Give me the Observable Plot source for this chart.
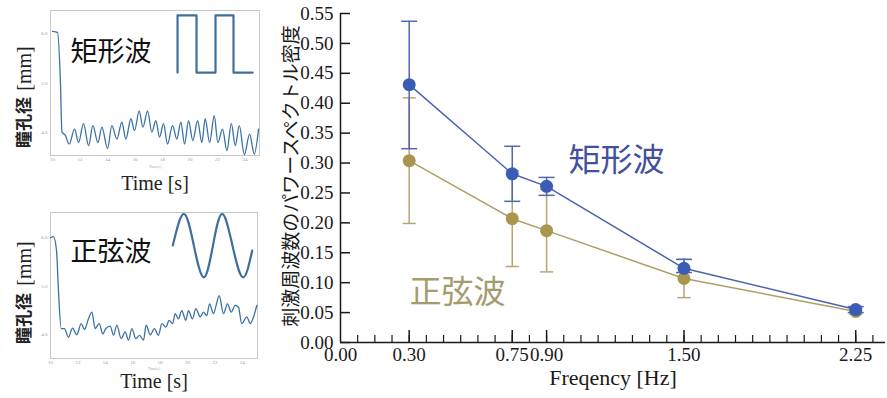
<!DOCTYPE html>
<html><head><meta charset="utf-8">
<script src="https://cdn.jsdelivr.net/npm/d3@7"></script>
<script src="https://cdn.jsdelivr.net/npm/@observablehq/plot@0.6"></script>
<style>
body{margin:0;background:#fff;width:887px;height:398px;overflow:hidden;position:relative}
.p{position:absolute}
svg{overflow:visible}
</style></head><body>
<div id="top" class="p" style="left:0;top:0"></div>
<div id="bot" class="p" style="left:0;top:198px"></div>
<div id="main" class="p" style="left:270px;top:0"></div>
<script>
// ---- main chart data ----
const freqs = [0.30, 0.75, 0.90, 1.50, 2.25];
const rectMean = [0.431, 0.282, 0.261, 0.124, 0.055];
const rectLo   = [0.324, 0.236, 0.246, 0.117, 0.050];
const rectHi   = [0.537, 0.328, 0.276, 0.139, 0.060];
const sineMean = [0.304, 0.207, 0.187, 0.107, 0.052];
const sineLo   = [0.199, 0.127, 0.118, 0.075, 0.047];
const sineHi   = [0.409, 0.287, 0.256, 0.139, 0.057];
const xTickLabels = [0.00, 0.30, 0.75, 0.90, 1.50, 2.25];
const yTicks = [0.00, 0.05, 0.10, 0.15, 0.20, 0.25, 0.30, 0.35, 0.40, 0.45, 0.50, 0.55];
const seriesNames = ["矩形波", "正弦波"];
const seriesLabelX = [1.205, 0.511];
const seriesLabelY = [0.304, 0.084];

// ---- inset panels data ----
const timeTicks = [10, 12, 14, 16, 18, 20, 22, 24];
const pupilTicks = [4, 5, 6];
const rectTraceT = [10.0,10.36,10.58,10.68,10.92,11.21,11.6,11.89,12.25,12.62,12.93,13.3,13.59,14.0,14.31,14.68,15.04,15.33,15.7,15.96,16.3,16.57,16.91,17.22,17.51,17.78,18.07,18.36,18.73,19.04,19.33,19.6,19.89,20.2,20.55,20.86,21.1,21.42,21.76,22.02,22.36,22.68,23.0,23.29,23.58,23.95,24.33,24.67,24.98];
const rectTraceV = [6.04,6.02,4.95,4.01,3.95,3.77,4.07,3.80,4.18,3.74,4.14,3.80,4.11,3.68,4.14,3.87,4.21,3.87,4.28,4.04,4.44,4.11,4.44,4.01,4.24,3.91,4.18,3.77,4.14,3.87,4.21,3.77,4.24,3.84,4.24,3.80,4.28,3.80,4.34,3.80,4.07,3.64,4.18,3.74,4.14,3.56,3.97,3.57,4.07];
const sineTraceT = [10.0,10.22,10.44,10.58,10.78,11.02,11.31,11.61,11.92,12.24,12.48,12.77,13.02,13.26,13.55,13.82,14.04,14.36,14.6,14.84,15.16,15.45,15.69,15.94,16.23,16.5,16.79,16.98,17.28,17.59,17.88,18.13,18.42,18.66,18.91,19.1,19.34,19.58,19.88,20.07,20.36,20.61,20.93,21.17,21.41,21.61,21.9,22.09,22.31,22.63,22.92,23.19,23.48,23.72,23.96,24.33,24.58,24.82,25.06];
const sineTraceV = [6.0,6.02,5.73,4.91,4.12,4.12,3.94,4.13,3.99,4.22,4.10,4.32,4.46,4.12,4.22,4.01,4.12,4.17,3.98,4.19,3.91,4.05,3.88,4.12,3.91,3.98,3.88,4.19,3.99,4.12,3.98,4.22,4.15,4.29,4.22,4.43,4.32,4.49,4.29,4.49,4.32,4.53,4.36,4.46,4.39,4.63,4.43,4.60,4.80,4.43,4.63,4.46,4.60,4.56,4.22,4.36,4.22,4.36,4.60];
const squareStimT = [19.09,19.09,20.47,20.47,21.85,21.85,23.16,23.16,24.55];
const squareStimV = [5.21,6.36,6.36,5.21,5.21,6.36,6.36,5.21,5.21];
const sineStimT = [18.93,19.73,20.46,21.19,21.86,22.53,23.28,24.04,24.72];
const sineStimV = [5.84,6.49,5.84,5.18,5.84,6.49,5.84,5.18,5.73];

const SERIF = "'Liberation Serif','Times New Roman',serif";
const CJK = "'Noto Sans CJK JP','Noto Sans CJK SC',sans-serif";
const zip = (a, b) => a.map((v, i) => ({x: v, y: b[i]}));

const BLUE = "#3a5cb5", BLUE_L = "#4b63ae", OLIVE = "#a8964f", OLIVE_L = "#ad9f66";
const capSym = {draw(ctx, size) { const w = Math.sqrt(size / Math.PI); ctx.moveTo(-w, 0); ctx.lineTo(w, 0); }};

const rect = freqs.map((f, i) => ({f, m: rectMean[i], lo: rectLo[i], hi: rectHi[i]}));
const sine = freqs.map((f, i) => ({f, m: sineMean[i], lo: sineLo[i], hi: sineHi[i]}));
const labels = seriesNames.map((n, i) => ({n, x: seriesLabelX[i], y: seriesLabelY[i], c: i === 0 ? "#42509e" : "#a39c6c"}));

function seriesMarks(d, lineC, dotC, errC, capR, dotR) {
  return [
    Plot.line(d, {x: "f", y: "m", stroke: lineC, strokeWidth: 1.5}),
    Plot.ruleX(d, {x: "f", y1: "lo", y2: "hi", stroke: errC, strokeWidth: 1.5}),
    Plot.dot(d, {x: "f", y: "lo", symbol: capSym, r: capR, stroke: errC, fill: "none", strokeWidth: 1.5}),
    Plot.dot(d, {x: "f", y: "hi", symbol: capSym, r: capR, stroke: errC, fill: "none", strokeWidth: 1.5}),
    Plot.dot(d, {x: "f", y: "m", r: dotR, fill: dotC, stroke: "none"})
  ];
}

const innerW = 617 - 70 - 2, innerH = 398 - 13 - 56;
const mainPlot = Plot.plot({
  width: 617, height: 398, marginLeft: 70, marginRight: 2, marginTop: 13, marginBottom: 56,
  x: {domain: [0, 2.38]}, y: {domain: [0, 0.55]},
  style: {fontFamily: SERIF, fontSize: "19px", color: "#1a1a1a", background: "transparent"},
  marks: [
    ...seriesMarks(sine, OLIVE_L, OLIVE, "#b3a674", 6.5, 6.5),
    ...seriesMarks(rect, BLUE_L, BLUE, "#5367b0", 8, 6.5),
    Plot.ruleY([0], {stroke: "#1a1a1a", strokeWidth: 1.5}),
    Plot.ruleX([0], {y1: 0, y2: 0.55, stroke: "#1a1a1a", strokeWidth: 1.5}),
    Plot.tickX(d3.range(1, 32).map(i => i * 0.075), {x: d => d, insetTop: innerH - 7, stroke: "#1a1a1a", strokeWidth: 1.2}),
    Plot.tickX(xTickLabels.slice(1), {x: d => d, insetTop: innerH - 12, stroke: "#1a1a1a", strokeWidth: 1.5}),
    Plot.tickY(yTicks, {y: d => d, insetRight: innerW - 10, stroke: "#1a1a1a", strokeWidth: 1.5}),
    Plot.axisX({ticks: xTickLabels, tickSize: 0, tickPadding: 5, tickFormat: d3.format(".2f"), label: null, fontSize: 19}),
    Plot.axisY({ticks: yTicks, tickSize: 0, tickPadding: 7, tickFormat: d3.format(".2f"), label: null, fontSize: 19}),
    Plot.text(["刺激周波数のパワースペクトル密度"], {frameAnchor: "left", textAnchor: "middle", rotate: -90, dx: -49, dy: -2, fontFamily: CJK, fontSize: 19, fill: "#1a1a1a"}),
    Plot.text(["Freqency [Hz]"], {frameAnchor: "bottom", dy: 42, fontFamily: SERIF, fontSize: 22, fill: "#1a1a1a"}),
    Plot.text(labels, {x: "x", y: "y", text: "n", fill: "c", fontFamily: CJK, fontSize: 32})
  ]
});
document.getElementById("main").append(mainPlot);

function panel(opts) {
  return Plot.plot({
    width: 270, height: opts.h, marginLeft: 50, marginRight: opts.mr, marginTop: opts.mt, marginBottom: opts.mb,
    x: {domain: opts.xd}, y: {domain: opts.yd},
    style: {fontFamily: SERIF, fontSize: "5px", color: "#888", background: "transparent"},
    marks: [
      Plot.frame({stroke: "#c8c8c8"}),
      Plot.axisX({ticks: timeTicks, tickSize: 0, tickPadding: 2, label: null, fontSize: 5, fill: "#999"}),
      Plot.axisY({ticks: pupilTicks, tickSize: 0, tickPadding: 3, label: null, fontSize: 5, fill: "#999"}),
      Plot.text(["Time(s)"], {frameAnchor: "bottom", dy: opts.sdy, fontSize: 4, fill: "#aaa"}),
      Plot.line(zip(opts.tt, opts.tv), {x: "x", y: "y", stroke: "#3a72a6", strokeWidth: 1.3, curve: "monotone-x"}),
      Plot.line(zip(opts.st, opts.sv), {x: "x", y: "y", stroke: "#3f6f9c", strokeWidth: 2.2, curve: opts.curve}),
      Plot.text([opts.name], {frameAnchor: "top-left", dx: 20, dy: opts.ndy, fontFamily: CJK, fontSize: 27, textAnchor: "start", fill: "#111"}),
      Plot.text(["瞳孔径"], {frameAnchor: "left", textAnchor: "middle", rotate: -90, dx: -26, dy: opts.cdy, fontFamily: CJK, fontWeight: "bold", fontSize: 17, fill: "#222"}),
      Plot.text(["[mm]"], {frameAnchor: "left", textAnchor: "middle", rotate: -90, dx: -26, dy: opts.mdy, fontFamily: SERIF, fontSize: 20, fill: "#222"}),
      Plot.text(["Time [s]"], {frameAnchor: "bottom", dy: opts.tdy, fontFamily: SERIF, fontSize: 20, fill: "#222"})
    ]
  });
}

document.getElementById("top").append(panel({
  h: 198, mr: 11, mt: 10, mb: 43, xd: [9.85, 25.05], yd: [3.54, 6.46],
  tt: rectTraceT, tv: rectTraceV, st: squareStimT, sv: squareStimV, curve: "linear",
  name: seriesNames[0], ndy: 31, cdy: 39.5, mdy: -14.5, tdy: 34, sdy: 12
}));
document.getElementById("bot").append(panel({
  h: 200, mr: 13, mt: 14, mb: 40, xd: [10, 25.11], yd: [3.5, 6.52],
  tt: sineTraceT, tv: sineTraceV, st: sineStimT, sv: sineStimV, curve: "natural",
  name: seriesNames[1], ndy: 29, cdy: 33, mdy: -22, tdy: 29, sdy: 11.5
}));
</script>
</body></html>
